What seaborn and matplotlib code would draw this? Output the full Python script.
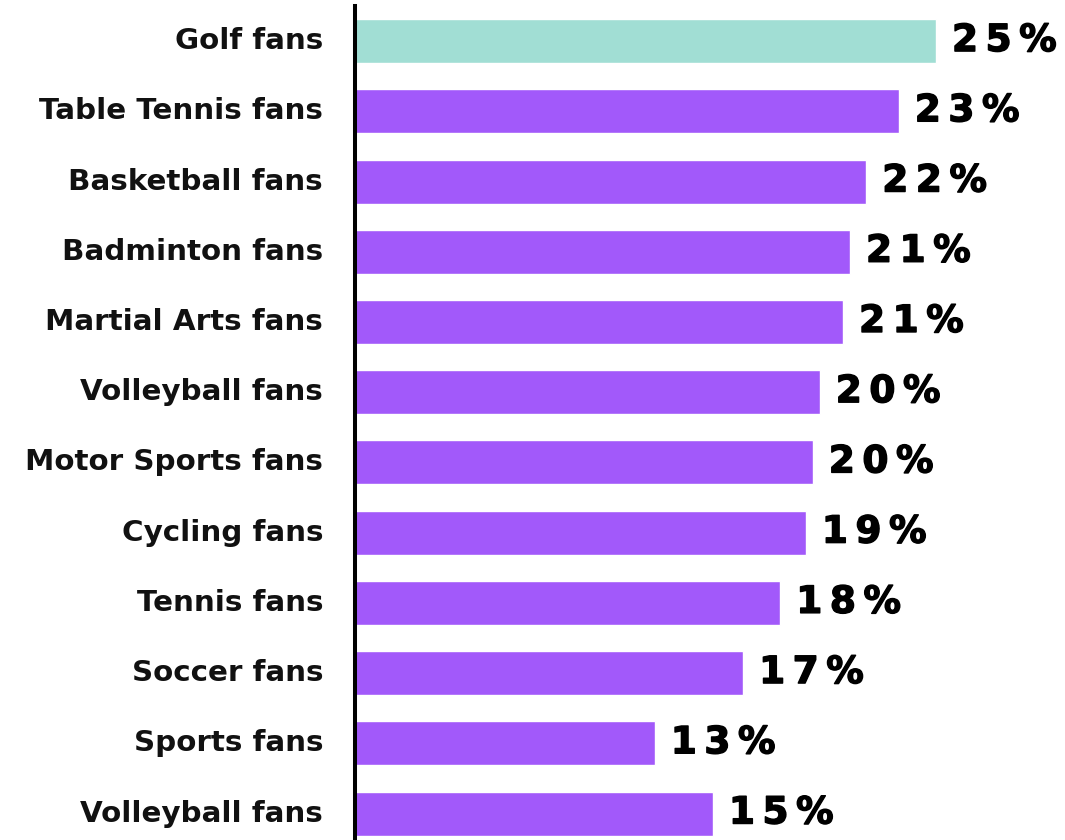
import matplotlib
matplotlib.use("Agg")
import matplotlib.pyplot as plt
import matplotlib.patheffects as pe
import seaborn as sns
import pandas as pd

# Share of each fan group (percent)
categories = [
    "Golf fans", "Table Tennis fans", "Basketball fans", "Badminton fans",
    "Martial Arts fans", "Volleyball fans", "Motor Sports fans", "Cycling fans",
    "Tennis fans", "Soccer fans", "Sports fans", "Volleyball fans",
]
values = [25.0, 23.4, 22.0, 21.3, 21.0, 20.0, 19.7, 19.4, 18.3, 16.7, 12.9, 15.4]
highlight = ["Golf fans"]

TEAL = "#A1DED4"
PURPLE = "#A259FA"

sns.set_theme(style="white")
plt.rcParams["font.family"] = ["DejaVu Sans"]

df = pd.DataFrame({
    "row": list(range(len(categories))),
    "label": categories,
    "value": values,
})
df["group"] = ["hi" if (i == 0 and c in highlight) else "base" for i, c in enumerate(categories)]

fig = plt.figure(figsize=(10.65, 8.40), dpi=100)
# axes from x=355px to the right edge, y from 6px to the bottom edge
ax = fig.add_axes([355 / 1065, 0.0, 1 - 355 / 1065, 1 - 6 / 840])

sns.barplot(
    data=df, x="value", y="row", hue="group", orient="h",
    palette={"hi": TEAL, "base": PURPLE}, width=0.627,
    dodge=False, legend=False, saturation=1, ax=ax,
)

ax.set_xlim(0, 710 / 23.24)
ax.set_ylim(11.377, -0.5)

ax.set_yticks(range(len(categories)))
ax.set_yticklabels(categories, fontsize=21.2, fontweight="bold", color="#111111")
for lbl in ax.get_yticklabels():
    lbl.set_verticalalignment("center")
ax.tick_params(axis="y", length=0, pad=23)
ax.set_xticks([])
ax.set_xlabel("")
ax.set_ylabel("")

for side in ["top", "right", "bottom"]:
    ax.spines[side].set_visible(False)
ax.spines["left"].set_color("black")
ax.spines["left"].set_linewidth(2.9)

# value labels in a heavy face with loose tracking
for i, v in enumerate(values):
    txt = "\u2009".join(f"{round(v)}%")
    ax.annotate(
        txt, xy=(v, i), xytext=(11.5, 0), textcoords="offset points",
        ha="left", va="center", fontsize=27, fontweight="bold",
        color="black",
        path_effects=[pe.Stroke(linewidth=1.0, foreground="black"), pe.Normal()],
    )

fig.savefig("out.png", dpi=100)
